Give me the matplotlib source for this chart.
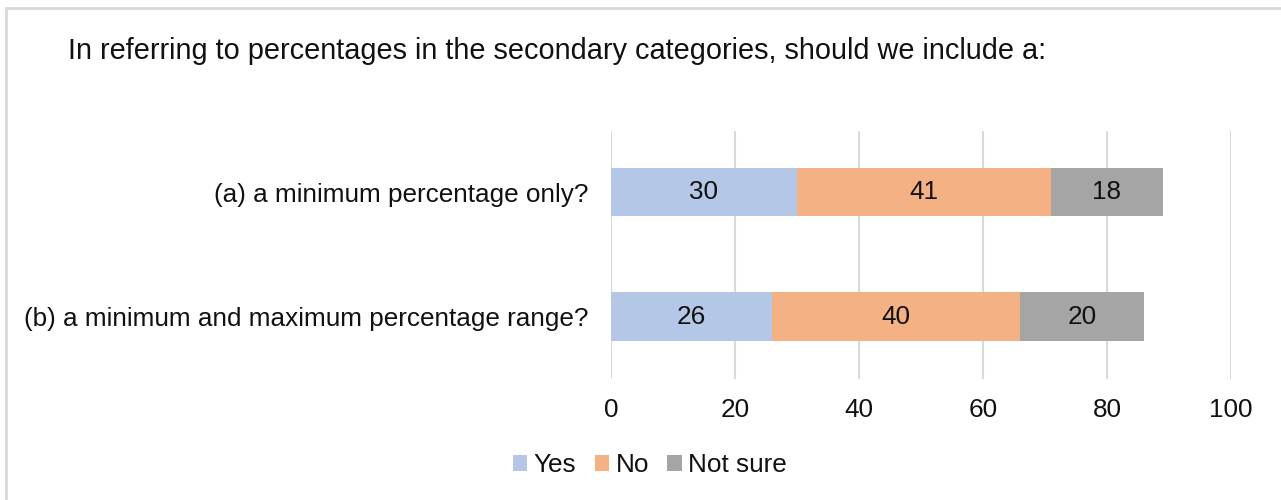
import matplotlib.pyplot as plt
from matplotlib.patches import Rectangle

plt.rcParams['font.family'] = ['Liberation Sans', 'DejaVu Sans']

# data
questions = ['(a) a minimum percentage only?',
             '(b) a minimum and maximum percentage range?']
series = ['Yes', 'No', 'Not sure']
yes = [30, 26]
no = [41, 40]
not_sure = [18, 20]
colors = ['#B4C7E7', '#F4B183', '#A5A5A5']
xticks = [0, 20, 40, 60, 80, 100]

fs = 18.8

fig = plt.figure(figsize=(12.81, 5), dpi=100)
ax = fig.add_axes([611 / 1281, 1 - 379 / 500, 620 / 1281, 248 / 500])

# outer frame (left and top edges visible)
fig.patches.append(Rectangle((6 / 1281, -0.1), 1.2, (492 / 500) + 0.1,
                             transform=fig.transFigure, fill=False,
                             edgecolor='#D9D9D9', linewidth=2))

ypos = list(range(len(questions)))
left = [0] * len(questions)
for name, vals, c in zip(series, [yes, no, not_sure], colors):
    bars = ax.barh(ypos, vals, left=left, height=0.39, color=c, label=name, zorder=3)
    for b, v in zip(bars, vals):
        ax.text(b.get_x() + b.get_width() / 2, b.get_y() + b.get_height() / 2,
                str(v), ha='center', va='center', fontsize=fs, color='#111111', zorder=4)
    left = [l + v for l, v in zip(left, vals)]

ax.set_xlim(0, 100)
ax.set_ylim(1.5, -0.49)
ax.set_xticks(xticks)
ax.set_yticks(ypos)
ax.set_yticklabels(questions)
ax.tick_params(axis='both', length=0, labelsize=fs, colors='#111111')
ax.tick_params(axis='x', pad=14)
ax.tick_params(axis='y', pad=16)
ax.grid(axis='x', color='#D9D9D9', linewidth=1.5, zorder=0)
for s in ax.spines.values():
    s.set_visible(False)

fig.text(68 / 1281, 1 - 51 / 500,
         'In referring to percentages in the secondary categories, should we include a:',
         fontsize=20.8, color='#111111', va='center', ha='left')

fig.legend(loc='center', bbox_to_anchor=(650 / 1281, 1 - 465 / 500), ncol=3,
           frameon=False, fontsize=fs, handlelength=0.55, handleheight=0.55,
           handletextpad=0.25, columnspacing=0.7, labelcolor='#111111')

fig.savefig('out.png', dpi=100, facecolor='white')
